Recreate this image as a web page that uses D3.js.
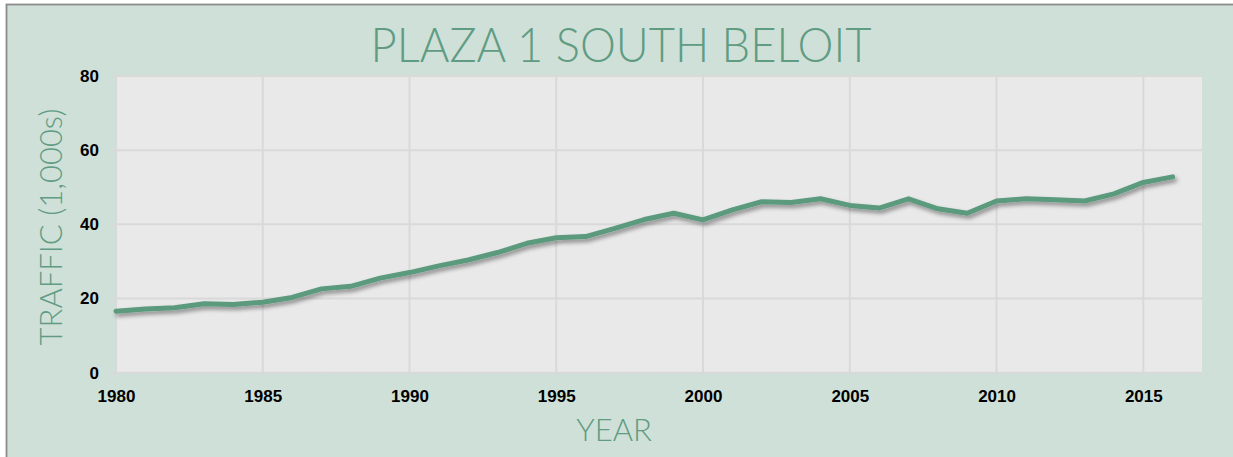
<!DOCTYPE html>
<html>
<head>
<meta charset="utf-8">
<script src="https://cdn.jsdelivr.net/npm/d3@7"></script>
<style>
	body { margin: 0; background: #fff; }
	.axis text { font-family: "Liberation Sans", Arial, sans-serif; font-weight: bold; font-size: 17px; fill: #000; }
	.axis path { display: none; }
	.light { font-family: Lato, "Open Sans", sans-serif; font-weight: 300; fill: #5f9c82; }
</style>
</head>
<body>
<div id="chart-area"></div>
<script>
/*
* Plaza 1 South Beloit traffic
*/
const years = [1980, 1981, 1982, 1983, 1984, 1985, 1986, 1987, 1988, 1989,
	1990, 1991, 1992, 1993, 1994, 1995, 1996, 1997, 1998, 1999,
	2000, 2001, 2002, 2003, 2004, 2005, 2006, 2007, 2008, 2009,
	2010, 2011, 2012, 2013, 2014, 2015, 2016]
const traffic = [16.6, 17.2, 17.5, 18.6, 18.4, 19.0, 20.3, 22.6, 23.3, 25.5,
	27.0, 28.8, 30.4, 32.4, 34.9, 36.4, 36.7, 38.9, 41.3, 43.0,
	41.2, 43.9, 46.1, 45.9, 46.9, 45.1, 44.4, 46.9, 44.2, 43.0,
	46.3, 46.9, 46.6, 46.3, 48.2, 51.3, 52.8]
const xTicks = [1980, 1985, 1990, 1995, 2000, 2005, 2010, 2015]
const yTicks = [0, 20, 40, 60, 80]

const W = 1233, H = 457
const margin = { left: 116, right: 31, top: 76, bottom: 84.3 }
const width = W - margin.left - margin.right,
	height = H - margin.top - margin.bottom

const svg = d3.select("#chart-area")
	.append("svg")
		.attr("width", W)
		.attr("height", H)

// shadow under the line
const filter = svg.append("defs").append("filter")
	.attr("id", "shadow")
	.attr("x", "-5%").attr("y", "-20%")
	.attr("width", "110%").attr("height", "140%")
filter.append("feDropShadow")
	.attr("dx", 2).attr("dy", 3)
	.attr("stdDeviation", 2)
	.attr("flood-color", "#000")
	.attr("flood-opacity", 0.4)

// chart background + border (only left/top visible)
svg.append("rect")
	.attr("x", 6.5).attr("y", 4.5)
	.attr("width", W + 20).attr("height", H + 20)
	.attr("fill", "#cfe0d8")
	.attr("stroke", "#8c8c8c")
	.attr("stroke-width", 1.8)

const g = svg.append("g")
	.attr("transform", `translate(${margin.left}, ${margin.top})`)

const x = d3.scaleLinear()
	.domain([1980, 2017])
	.range([0, width])

const y = d3.scaleLinear()
	.domain([0, 80])
	.range([height, 0])

// plot area
g.append("rect")
	.attr("width", width)
	.attr("height", height)
	.attr("fill", "#e9e9e9")

// grid
g.selectAll(".hgrid")
	.data(yTicks)
	.enter().append("line")
		.attr("x1", 0).attr("x2", width)
		.attr("y1", d => y(d)).attr("y2", d => y(d))
		.attr("stroke", "#d9d9d9")
		.attr("stroke-width", 2)

g.selectAll(".vgrid")
	.data(xTicks)
	.enter().append("line")
		.attr("x1", d => x(d)).attr("x2", d => x(d))
		.attr("y1", 0).attr("y2", height + 4)
		.attr("stroke", "#d9d9d9")
		.attr("stroke-width", 2)

// minor year ticks
g.selectAll(".minor")
	.data(years.concat([2017]).filter(d => xTicks.indexOf(d) < 0))
	.enter().append("line")
		.attr("x1", d => x(d)).attr("x2", d => x(d))
		.attr("y1", height).attr("y2", height + 3)
		.attr("stroke", "#dcdcdc")
		.attr("stroke-width", 1)

// axes
const xAxisCall = d3.axisBottom(x)
	.tickValues(xTicks)
	.tickFormat(d3.format("d"))
	.tickSize(0)
	.tickPadding(17)

const yAxisCall = d3.axisLeft(y)
	.tickValues(yTicks)
	.tickSize(5)
	.tickPadding(12)

g.append("g")
	.attr("class", "x axis")
	.attr("transform", `translate(0, ${height})`)
	.call(xAxisCall)

const yAxisGroup = g.append("g")
	.attr("class", "y axis")
	.call(yAxisCall)
yAxisGroup.selectAll("line").attr("stroke", "#d9d9d9").attr("stroke-width", 2)

// line
const line = d3.line()
	.x((d, i) => x(years[i]))
	.y(d => y(d))

g.append("path")
	.datum(traffic)
	.attr("d", line)
	.attr("fill", "none")
	.attr("stroke", "#5b9a7e")
	.attr("stroke-width", 5)
	.attr("stroke-linejoin", "round")
	.attr("stroke-linecap", "round")
	.attr("filter", "url(#shadow)")

// title
svg.append("text")
	.attr("class", "light")
	.attr("x", 621)
	.attr("y", 62)
	.attr("font-size", "47px")
	.attr("text-anchor", "middle")
	.attr("textLength", 501)
	.attr("lengthAdjust", "spacingAndGlyphs")
	.text("PLAZA 1 SOUTH BELOIT")

// X label
svg.append("text")
	.attr("class", "light")
	.attr("x", 614)
	.attr("y", 441)
	.attr("font-size", "31px")
	.attr("text-anchor", "middle")
	.text("YEAR")

// Y label
svg.append("text")
	.attr("class", "light")
	.attr("transform", "translate(62, 227) rotate(-90)")
	.attr("font-size", "31px")
	.attr("text-anchor", "middle")
	.text("TRAFFIC (1,000s)")
</script>
</body>
</html>
